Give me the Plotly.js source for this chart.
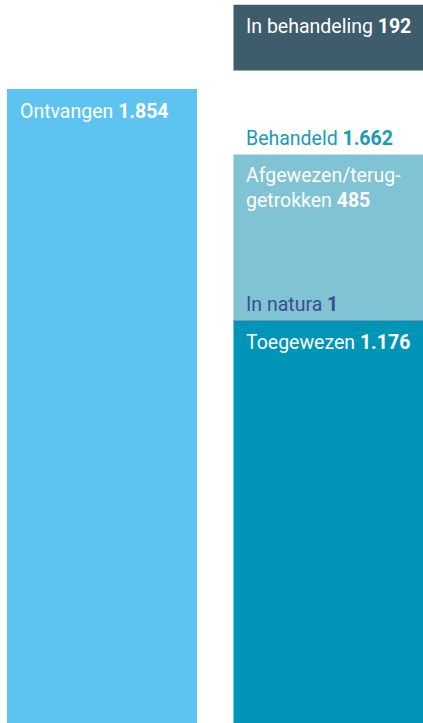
<!DOCTYPE html>
<html>
<head>
<meta charset="utf-8">
<script src="https://cdn.plot.ly/plotly-3.0.1.min.js"></script>
<style>html,body{margin:0;padding:0;background:#fff;}#chart{width:423px;height:723px;}</style>
</head>
<body>
<div id="chart"></div>
<script>
// Data
const categories = ['Ontvangen', 'Behandeld'];
const ontvangen = [1854];
const toegewezen = [1176];
const inNatura = [1];
const afgewezen = [485];
const behandeld = [1662];
const inBehandeling = [192];
const labels = {
  ontvangen: 'Ontvangen',
  toegewezen: 'Toegewezen',
  inNatura: 'In natura',
  afgewezen: 'Afgewezen/terug-<br>getrokken',
  behandeld: 'Behandeld',
  inBehandeling: 'In behandeling'
};

function nl(n) { return n.toLocaleString('nl-NL'); }

const W = 0.839;
const gap = 246;
const x0 = [categories[0]], x1 = [categories[1]];
const traces = [
  {type:'bar', x:x0, y:ontvangen, base:[0], width:W, marker:{color:'#5DC3F1'}, hoverinfo:'none'},
  {type:'bar', x:x1, y:toegewezen, base:[0], width:W, marker:{color:'#0095B6'}, hoverinfo:'none'},
  {type:'bar', x:x1, y:inNatura, base:[toegewezen[0]], width:W, marker:{color:'#3D5A93', line:{color:'#3D5A93', width:0.6}}, hoverinfo:'none'},
  {type:'bar', x:x1, y:afgewezen, base:[toegewezen[0]+inNatura[0]], width:W, marker:{color:'#80C3D4'}, hoverinfo:'none'},
  {type:'bar', x:x1, y:inBehandeling, base:[behandeld[0]+gap], width:W, marker:{color:'#3E5C6B'}, hoverinfo:'none'}
];

const F = 'Roboto, sans-serif';
const fs = 19.5;
function ann(xi, y, text, color, yshift) {
  return {xref:'x', yref:'y', x: xi - W/2, y: y, xanchor:'left', yanchor:'top',
    xshift: 11, yshift: yshift, align:'left', showarrow:false, text:text,
    font:{family:F, size:fs, color:color}};
}
const afgTop = toegewezen[0]+inNatura[0]+afgewezen[0];
const annotations = [
  ann(0, ontvangen[0], labels.ontvangen + ' <b>' + nl(ontvangen[0]) + '</b>', '#ffffff', -9.5),
  ann(1, behandeld[0]+gap+inBehandeling[0], labels.inBehandeling + ' <b>' + nl(inBehandeling[0]) + '</b>', '#ffffff', -8.5),
  ann(1, behandeld[0], labels.behandeld + ' <b>' + nl(behandeld[0]) + '</b>', '#1A9AB6', 30),
  ann(1, afgTop, labels.afgewezen + ' <b>' + nl(afgewezen[0]) + '</b>', '#ffffff', -7),
  ann(1, toegewezen[0]+inNatura[0], labels.inNatura + ' <b>' + nl(inNatura[0]) + '</b>', '#3A4F8E', 29),
  ann(1, toegewezen[0], labels.toegewezen + ' <b>' + nl(toegewezen[0]) + '</b>', '#ffffff', -8)
];

const layout = {
  width:423, height:723,
  margin:{l:0,r:0,t:0,b:0,pad:0},
  paper_bgcolor:'#ffffff', plot_bgcolor:'#ffffff',
  barmode:'overlay', showlegend:false,
  xaxis:{type:'category', range:[-0.45, 1.417], visible:false, fixedrange:true},
  yaxis:{range:[0, 2114], visible:false, fixedrange:true},
  annotations: annotations
};
Plotly.newPlot('chart', traces, layout, {staticPlot:true, displayModeBar:false});
</script>
</body>
</html>
